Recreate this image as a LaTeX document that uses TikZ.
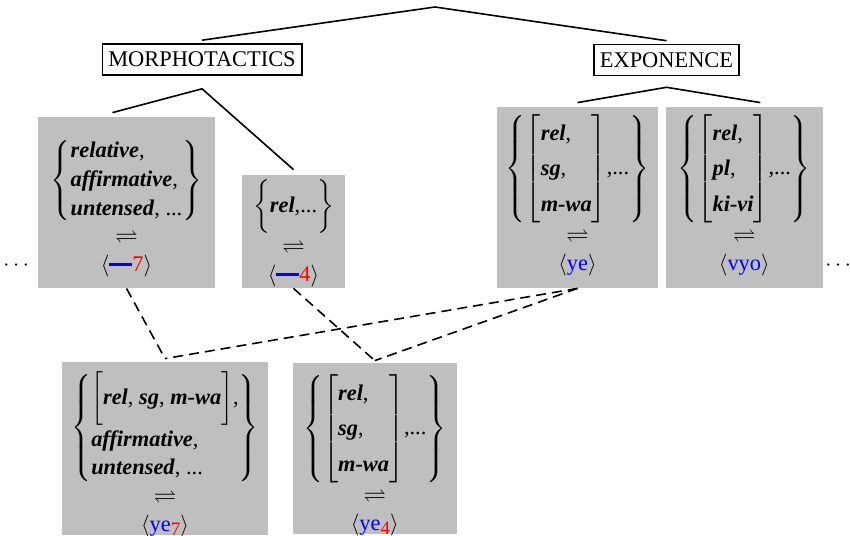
\documentclass[tikz,border=0pt]{standalone}
\usepackage{amsmath,amssymb}
\usepackage{fontspec}
\setmainfont{Liberation Serif}
\usetikzlibrary{positioning, calc}

\newcommand{\ft}[1]{\textbf{\textit{#1}}}
\newcommand{\blank}[1]{\textcolor{blue}{\rule[0.55ex]{11.5pt}{1.4pt}}\textcolor{red}{#1}}
\newcommand{\form}[2]{\textcolor{blue}{#1}\raisebox{-0.4ex}{\fontsize{9.5}{10}\selectfont\textcolor{red}{#2}}}
\newcommand{\feats}[1]{{\left[{\renewcommand{\arraystretch}{1.33}\begin{tabular}{@{}l@{}}#1\end{tabular}}\right]}}
\newcommand{\props}[1]{{\renewcommand{\arraystretch}{1.08}\begin{tabular}{@{}l@{}}#1\end{tabular}}}
\newcommand{\stack}[2]{\begin{tabular}{@{}c@{}}#1\\[1pt]$\rightleftharpoons$\\[1pt]$\langle$#2$\rangle$\end{tabular}}

\begin{document}
\begin{tikzpicture}[x=0.5pt, y=-0.5pt, font=\fontsize{11.2}{13.4}\selectfont,
	cat/.style={draw, thick, inner xsep=3pt, inner ysep=0pt, minimum height=15.5pt},
	cell/.style={fill=black!25, inner sep=0pt},
	entry/.style={inner sep=0pt},
	tie/.style={thick},
	link/.style={thick, dash pattern=on 5pt off 3pt}]
	\useasboundingbox (0,0) rectangle (850,535);
	\coordinate (root) at (435,7);
	\node[cat] (morph) at (202,59.5) {MORPHOTACTICS};
	\node[cat] (expo) at (666.5,60) {EXPONENCE};
	\coordinate[below=6.5pt of morph] (mj);
	\coordinate[below=5.5pt of expo] (ej);
	\node[cell, minimum width=88.5pt, minimum height=85.5pt] (b1) at (126.5,202.5) {};
	\node[cell, minimum width=51.5pt, minimum height=56.5pt] (b2) at (293.5,231.5) {};
	\node[cell, minimum width=80.5pt, minimum height=90.5pt] (b3) at (577.5,197.5) {};
	\node[cell, minimum width=78.5pt, minimum height=90.5pt, right=3.5pt of b3] (b4) {};
	\node[cell, minimum width=103pt, minimum height=86.5pt] (b5) at (165,448.5) {};
	\node[cell, minimum width=82pt, minimum height=85.5pt, right=12pt of b5] (b6) {};
	\node[entry, below=10pt of b1.north] (t1)
		{\stack{$\left\{\props{\ft{relative},\\\ft{affirmative},\\\ft{untensed}, ...}\right\}$}{\blank{7}}};
	\node[entry, below=2.5pt of b2.north] (t2)
		{\stack{$\bigg\{$\ft{rel},...$\bigg\}$}{\blank{4}}};
	\node[entry, below=4pt of b3.north] (t3)
		{\stack{$\left\{\feats{\ft{rel},\\\ft{sg},\\\ft{m-wa}}\text{,...}\right\}$}{\textcolor{blue}{ye}}};
	\node[entry, below=4pt of b4.north] (t4)
		{\stack{$\left\{\feats{\ft{rel},\\\ft{pl},\\\ft{ki-vi}}\text{,...}\right\}$}{\textcolor{blue}{vyo}}};
	\node[entry, below=5pt of b5.north] (t5)
		{\stack{$\left\{\props{$\bigg[$\ft{rel}, \ft{sg}, \ft{m-wa}$\bigg]$,\\\ft{affirmative},\\\ft{untensed}, ...}\right\}$}{\form{ye}{7}}};
	\node[entry, below=6pt of b6.north] (t6)
		{\stack{$\left\{\feats{\ft{rel},\\\ft{sg},\\\ft{m-wa}}\text{,...}\right\}$}{\form{ye}{4}}};
	\node (ldots) at (18,266) {$\cdots$};
	\node (rdots) at (840,266) {$\cdots$};
	\draw[tie] (root) -- ([yshift=1.5pt]morph.north);
	\draw[tie] (root) -- ([yshift=1.5pt]expo.north);
	\draw[tie] ([shift={(-7pt,2pt)}]b1.north) -- (mj) -- ([yshift=2.5pt]b2.north);
	\draw[tie] ([yshift=2pt]b3.north) -- (ej) -- ([shift={(8pt,2pt)}]b4.north);
	\draw[link] (b1.south) -- ([yshift=1.5pt]b5.north);
	\draw[link] (b2.south) -- ([yshift=1pt]b6.north);
	\draw[link] (b3.south) -- ([yshift=1.5pt]b5.north);
	\draw[link] (b3.south) -- ([yshift=1pt]b6.north);
\end{tikzpicture}
\end{document}
